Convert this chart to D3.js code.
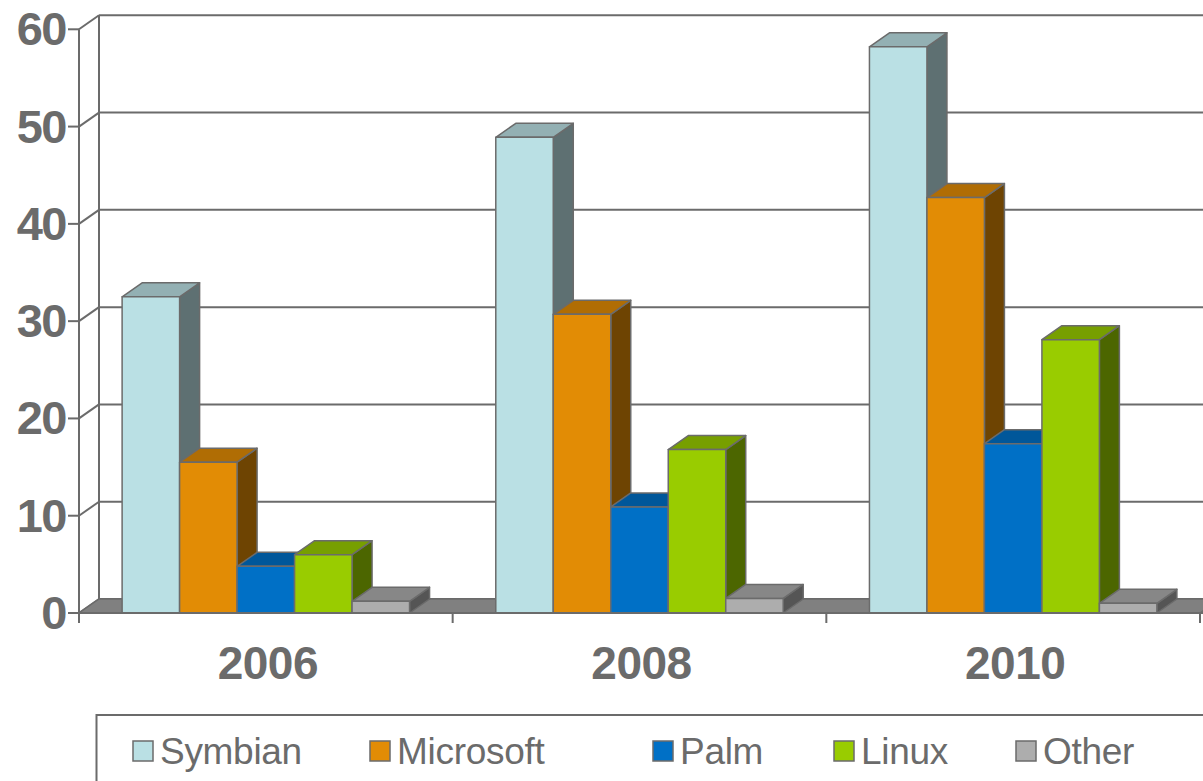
<!DOCTYPE html>
<html>
<head>
<meta charset="utf-8">
<script src="https://cdn.jsdelivr.net/npm/d3@7"></script>
<style>
  html, body { margin: 0; padding: 0; background: #fff; overflow: hidden; }
  text { font-family: "Liberation Sans", Arial, sans-serif; fill: #6b6b6b; }
</style>
</head>
<body>
<svg id="chart" width="1203" height="781"></svg>
<script>
// data
var years = ["2006", "2008", "2010"];
var series = ["Symbian", "Microsoft", "Palm", "Linux", "Other"];
var symbian = [32.5, 48.9, 58.2];
var microsoft = [15.5, 30.7, 42.7];
var palm = [4.8, 10.9, 17.4];
var linux = [6.0, 16.8, 28.1];
var other = [1.2, 1.5, 1.0];
var yTicks = [0, 10, 20, 30, 40, 50, 60];

var values = [symbian, microsoft, palm, linux, other];

// face colours: front, top, side
var colors = {
  Symbian: ["#bae0e4", "#93b0b3", "#5e7072"],
  Microsoft: ["#e28c05", "#b06d04", "#6e4402"],
  Palm: ["#0070c6", "#00579a", "#00375f"],
  Linux: ["#99cc00", "#779f00", "#4c6600"],
  Other: ["#adadad", "#878787", "#555555"]
};

var line = "#6b6b6b";
var dx = 20, dy = -14; // depth offset

var svg = d3.select("#chart");

var x = d3.scaleBand().domain(years).range([79, 1200]).padding(0);
var xs = d3.scaleBand().domain(series).range([0, x.bandwidth()]).paddingInner(0).paddingOuter(0.75);
var y = d3.scaleLinear().domain([0, 60]).range([613, 29.3]);

var x0 = x.range()[0], x1 = x.range()[1];

// back wall grid + side wall
var grid = svg.append("g");
yTicks.forEach(function(v) {
  grid.append("line")
    .attr("x1", x0 + dx).attr("x2", x1 + dx + 40)
    .attr("y1", y(v) + dy).attr("y2", y(v) + dy)
    .attr("stroke", line).attr("stroke-width", 2);
  grid.append("line")
    .attr("x1", x0).attr("x2", x0 + dx)
    .attr("y1", y(v)).attr("y2", y(v) + dy)
    .attr("stroke", line).attr("stroke-width", 2);
});
grid.append("line")
  .attr("x1", x0 + dx).attr("x2", x0 + dx)
  .attr("y1", y(60) + dy).attr("y2", y(0) + dy)
  .attr("stroke", line).attr("stroke-width", 2);

// floor
svg.append("path")
  .attr("d", d3.line()([[x0, y(0)], [x1, y(0)], [x1 + dx, y(0) + dy], [x0 + dx, y(0) + dy]]) + "Z")
  .attr("fill", "#808080")
  .attr("stroke", line).attr("stroke-width", 1.5);

// bars, left to right so each front covers the previous side
var bars = svg.append("g");
years.forEach(function(yr, i) {
  series.forEach(function(s, j) {
    var v = values[j][i];
    var bx = x(yr) + xs(s), w = xs.bandwidth();
    var top = y(v), bot = y(0);
    var c = colors[s];
    var g = bars.append("g").attr("stroke", line).attr("stroke-width", 1.5).attr("stroke-linejoin", "round");
    // side
    g.append("path")
      .attr("d", d3.line()([[bx + w, bot], [bx + w + dx, bot + dy], [bx + w + dx, top + dy], [bx + w, top]]) + "Z")
      .attr("fill", c[2]);
    // top
    g.append("path")
      .attr("d", d3.line()([[bx, top], [bx + dx, top + dy], [bx + w + dx, top + dy], [bx + w, top]]) + "Z")
      .attr("fill", c[1]);
    // front
    g.append("rect")
      .attr("x", bx).attr("y", top)
      .attr("width", w).attr("height", bot - top)
      .attr("fill", c[0]);
  });
});

// front axes
var ax = svg.append("g").attr("stroke", line).attr("stroke-width", 2);
ax.append("line").attr("x1", x0).attr("x2", x1 + 10).attr("y1", y(0)).attr("y2", y(0));
ax.append("line").attr("x1", x0).attr("x2", x0).attr("y1", y(60)).attr("y2", y(0) + 10);
yTicks.forEach(function(v) {
  ax.append("line").attr("x1", x0 - 11).attr("x2", x0).attr("y1", y(v)).attr("y2", y(v));
});
years.forEach(function(yr) {
  ax.append("line").attr("x1", x(yr) + x.bandwidth()).attr("x2", x(yr) + x.bandwidth())
    .attr("y1", y(0)).attr("y2", y(0) + 10);
});

// y labels
svg.append("g").selectAll("text").data(yTicks).join("text")
  .attr("x", 66).attr("y", function(d) { return y(d) + 16; })
  .attr("text-anchor", "end")
  .attr("font-size", 47).attr("font-weight", "bold")
  .attr("letter-spacing", -1.5)
  .text(function(d) { return d; });

// x labels
svg.append("g").selectAll("text").data(years).join("text")
  .attr("x", function(d) { return x(d) + x.bandwidth() / 2 + 2; })
  .attr("y", 679)
  .attr("text-anchor", "middle")
  .attr("font-size", 46).attr("font-weight", "bold")
  .attr("letter-spacing", -0.5)
  .text(function(d) { return d; });

// legend
svg.append("rect")
  .attr("x", 96.5).attr("y", 715)
  .attr("width", 1200).attr("height", 200)
  .attr("fill", "none").attr("stroke", line).attr("stroke-width", 2);

var legX = [133, 370, 653, 834, 1016];
var leg = svg.append("g").selectAll("g").data(series).join("g")
  .attr("transform", function(d, i) { return "translate(" + legX[i] + ",741)"; });
leg.append("rect")
  .attr("width", 20).attr("height", 20)
  .attr("fill", function(d) { return colors[d][0]; })
  .attr("stroke", line).attr("stroke-width", 1.5);
leg.append("text")
  .attr("x", 27).attr("y", 23)
  .attr("font-size", 37)
  .attr("letter-spacing", -0.3)
  .text(function(d) { return d; });
</script>
</body>
</html>
